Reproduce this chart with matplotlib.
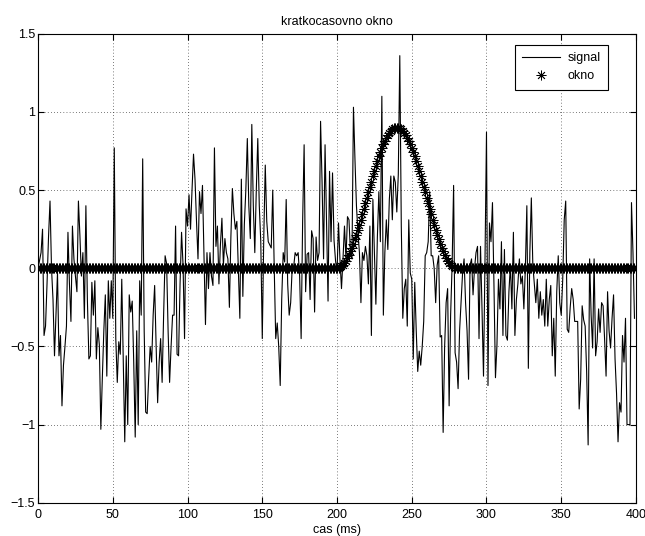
import numpy as np
import matplotlib.pyplot as plt

plt.rcParams['font.family'] = ['Liberation Sans', 'DejaVu Sans']

# signal samples (10 per row)
signal = [
    0.0, 0.05, 0.1, 0.25, -0.43, -0.37, -0.1, 0.2, 0.43, 0.0,
    -0.2, -0.56, -0.3, -0.03, -0.56, -0.43, -0.88, -0.62, -0.5, -0.37,
    0.23, -0.1, -0.34, 0.27, 0.06, -0.05, -0.15, 0.43, 0.21, -0.05,
    0.1, -0.32, 0.40, -0.2, -0.58, -0.56, -0.09, -0.30, -0.08, -0.58,
    -0.38, -0.49, -1.03, -0.7, -0.4, -0.17, -0.69, -0.08, -0.32, -0.08,
    -0.32, 0.77, -0.45, -0.73, -0.47, -0.55, -0.07, -0.6, -1.11, -0.56,
    -1.0, -0.17, -0.28, -0.21, -0.6, -1.08, -0.40, -1.0, -0.08, -0.30,
    0.70, -0.4, -0.92, -0.93, -0.7, -0.50, -0.60, -0.3, -0.11, -0.5,
    -0.86, -0.6, -0.45, -0.73, -0.3, 0.08, 0.03, -0.4, -0.73, -0.5,
    -0.3, -0.30, 0.27, -0.55, -0.56, -0.1, 0.23, 0.02, -0.45, 0.38,
    0.27, 0.47, 0.25, 0.5, 0.73, 0.57, 0.3, 0.06, 0.49, 0.35,
    0.53, 0.1, -0.36, 0.10, -0.13, 0.1, -0.05, -0.11, 0.77, 0.14,
    0.27, -0.10, 0.15, 0.32, 0.02, 0.19, 0.1, 0.06, -0.25, 0.2,
    0.51, 0.35, 0.25, 0.30, 0.0, -0.32, 0.57, -0.18, 0.28, 0.5,
    0.83, 0.4, 0.19, 0.92, 0.4, 0.10, 0.5, 0.83, 0.4, 0.17,
    -0.45, 0.2, 0.66, 0.3, 0.17, 0.15, 0.13, 0.50, 0.0, -0.45,
    -0.35, -0.5, -0.75, -0.2, 0.10, 0.04, 0.44, -0.1, -0.30, -0.22,
    0.0, 0.01, 0.10, 0.08, 0.1, -0.05, -0.45, 0.3, 0.79, -0.15,
    0.09, 0.1, -0.20, 0.24, 0.19, -0.28, 0.20, 0.05, 0.1, 0.94,
    0.55, 0.06, 0.79, 0.3, -0.21, 0.62, 0.17, 0.61, 0.18, 0.05,
    -0.03, 0.29, 0.05, -0.13, 0.06, 0.27, 0.06, 0.33, 0.31, 0.1,
    0.06, 1.03, 0.70, 0.4, 0.23, 0.1, -0.22, 0.1, 0.05, 0.14,
    0.08, -0.10, 0.27, -0.43, 0.44, 0.1, -0.23, 0.2, 0.49, 0.17,
    1.10, -0.30, 0.1, 0.31, 0.12, 0.44, 0.59, 0.31, 0.59, 0.55,
    0.36, 0.6, 1.36, 0.27, -0.32, -0.13, -0.07, -0.37, 0.31, -0.03,
    -0.07, -0.58, -0.09, -0.4, -0.66, -0.53, -0.62, -0.5, -0.34, 0.08,
    0.1, 0.17, 0.49, 0.08, 0.08, 0.0, -0.22, 0.02, 0.08, -0.44,
    -0.43, -1.05, -0.5, -0.22, -0.13, -0.88, -0.3, 0.02, 0.53, -0.54,
    -0.6, -0.77, -0.4, -0.22, -0.03, 0.06, -0.22, -0.4, -0.71, 0.02,
    0.06, -0.17, 0.0, 0.10, 0.14, -0.45, 0.14, -0.26, -0.69, 0.05,
    0.87, -0.75, 0.29, 0.17, 0.42, -0.11, -0.70, -0.49, -0.07, -0.26,
    0.17, -0.43, 0.12, -0.43, -0.46, -0.15, 0.02, -0.26, 0.23, -0.43,
    -0.20, -0.1, 0.06, -0.1, -0.05, -0.26, 0.0, 0.40, -0.64, 0.1,
    0.45, 0.02, -0.1, -0.22, -0.07, -0.32, -0.15, -0.30, -0.2, -0.37,
    -0.07, -0.37, -0.2, -0.11, -0.56, -0.32, -0.69, -0.15, 0.08, -0.22,
    -0.30, -0.07, 0.31, 0.43, -0.39, -0.41, -0.25, -0.13, -0.20, -0.34,
    -0.34, -0.34, -0.90, -0.71, -0.24, -0.33, -0.37, -0.66, -1.13, 0.06,
    -0.3, -0.51, 0.06, -0.56, -0.47, -0.26, -0.41, -0.22, -0.24, -0.45,
    -0.69, -0.15, -0.4, -0.51, -0.32, -0.17, -0.58, -0.8, -1.11, -0.86,
    -0.92, -0.43, -0.6, -0.32, -1.0, -1.0, -1.0, 0.42, 0.1, -0.32,
]

# window: zero before sample 200 and after 280, bell in between
win_start = 200
win_bell = [
    0.0, 0.001, 0.006, 0.012, 0.022, 0.034, 0.049, 0.066, 0.086, 0.108,
    0.132, 0.158, 0.186, 0.215, 0.246, 0.278, 0.311, 0.345, 0.380, 0.415,
    0.450, 0.485, 0.520, 0.555, 0.589, 0.622, 0.654, 0.685, 0.715, 0.742,
    0.768, 0.792, 0.814, 0.834, 0.851, 0.866, 0.878, 0.888, 0.895, 0.899,
    0.900,
    0.899, 0.895, 0.888, 0.878, 0.866, 0.851, 0.834, 0.814, 0.792, 0.768,
    0.742, 0.715, 0.685, 0.654, 0.622, 0.589, 0.555, 0.520, 0.485, 0.450,
    0.415, 0.380, 0.345, 0.311, 0.278, 0.246, 0.215, 0.186, 0.158, 0.132,
    0.108, 0.086, 0.066, 0.049, 0.034, 0.022, 0.012, 0.006, 0.001, 0.0,
]

t_sig = np.arange(len(signal))
t = np.arange(len(signal) + 1)
okno = np.zeros(len(t))
okno[win_start:win_start + len(win_bell)] = win_bell

fig = plt.figure(figsize=(6.45, 5.36), dpi=100)
ax = fig.add_axes([0.059, 0.062, 0.927, 0.875])

asterisk = (8, 2, 0)
ax.plot(t_sig, signal, color='black', linewidth=0.8, label='signal')
ax.plot(t, okno, linestyle='none', marker=asterisk, color='black',
        markersize=7, markeredgewidth=0.6, label='okno')

ax.set_xlim(0, 400)
ax.set_ylim(-1.5, 1.5)
ax.set_xticks(np.arange(0, 401, 50))
yt = [-1.5, -1, -0.5, 0, 0.5, 1, 1.5]
ax.set_yticks(yt)
ax.set_yticklabels(['\u22121.5', '\u22121', '\u22120.5', '0', '0.5', '1', '1.5'])
ax.tick_params(axis='x', pad=4.5)
ax.tick_params(axis='y', pad=2)
ax.tick_params(direction='in', top=True, right=True, length=4, width=0.8,
               labelsize=9)
ax.grid(True, linestyle=(0, (1, 3.5)), color='black', linewidth=0.5)
for s in ax.spines.values():
    s.set_linewidth(0.8)

ax.set_title('kratkocasovno okno', fontsize=9, pad=6)
ax.set_xlabel('cas (ms)', fontsize=9, labelpad=2)

leg = ax.legend(loc='upper right', bbox_to_anchor=(0.953, 0.977), fontsize=9,
                borderaxespad=0, fancybox=False, edgecolor='black',
                framealpha=1, handlelength=3.0, borderpad=0.6,
                labelspacing=0.5, handletextpad=0.6)
leg.get_frame().set_linewidth(0.8)

fig.savefig('out.png', dpi=100)
